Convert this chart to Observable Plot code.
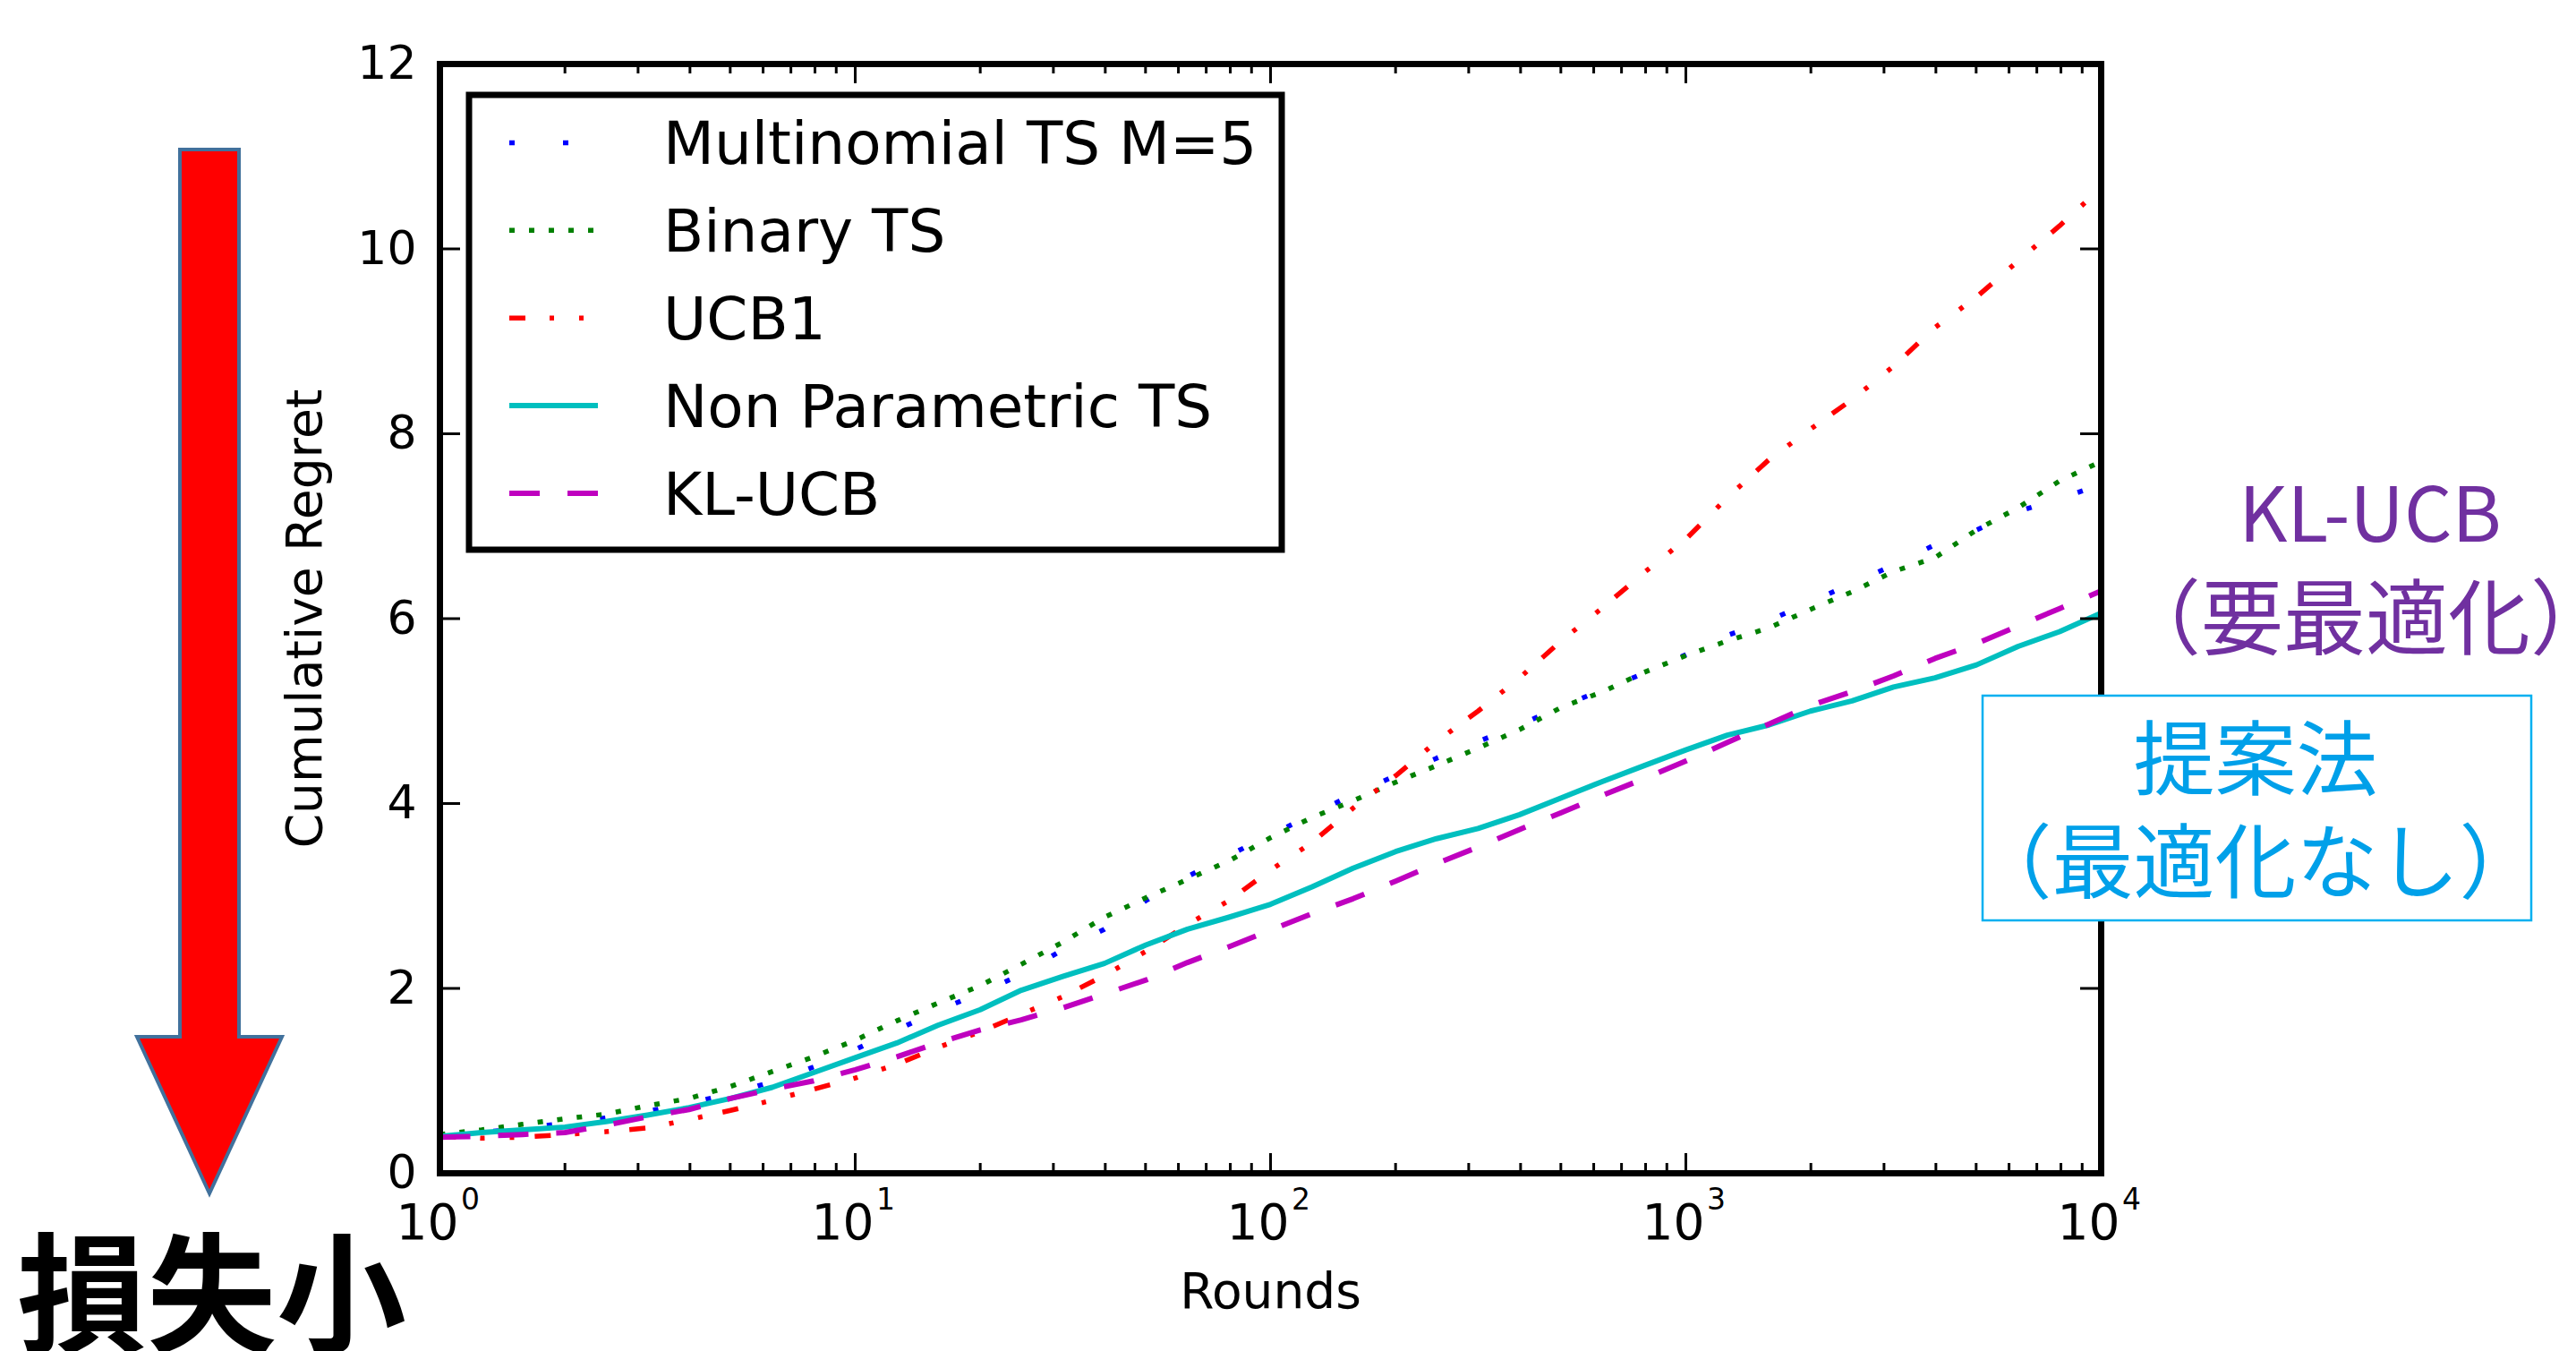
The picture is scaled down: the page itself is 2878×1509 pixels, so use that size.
<!DOCTYPE html>
<html>
<head>
<meta charset="utf-8">
<script src="https://cdn.jsdelivr.net/npm/d3@7"></script>
<script src="https://cdn.jsdelivr.net/npm/@observablehq/plot@0.6"></script>
<style>
  html, body { margin: 0; padding: 0; background: #fff; }
  #wrap { position: relative; width: 2878px; height: 1509px; overflow: hidden; background: #fff; }
  #overlay { position: absolute; left: 0; top: 0; }
</style>
</head>
<body>
<div id="wrap"></div>
<script>
// ---- data ----
const rounds = [1, 1.26, 1.58, 2, 2.51, 3.16, 3.98, 5.01, 6.31, 7.94,
  10, 12.6, 15.8, 20, 25.1, 31.6, 39.8, 50.1, 63.1, 79.4,
  100, 126, 158, 200, 251, 316, 398, 501, 631, 794,
  1000, 1259, 1585, 1995, 2512, 3162, 3981, 5012, 6310, 7943, 10000];

const multinomialTS = [0.40, 0.44, 0.49, 0.54, 0.60, 0.67, 0.76, 0.86, 0.99, 1.15,
  1.34, 1.55, 1.76, 1.95, 2.15, 2.42, 2.64, 2.95, 3.21, 3.44,
  3.66, 3.88, 4.10, 4.30, 4.49, 4.67, 4.85, 5.05, 5.23, 5.41,
  5.61, 5.82, 5.98, 6.18, 6.38, 6.58, 6.80, 6.96, 7.16, 7.30, 7.45];

const binaryTS = [0.42, 0.47, 0.53, 0.59, 0.64, 0.73, 0.81, 0.94, 1.10, 1.26,
  1.44, 1.65, 1.84, 2.03, 2.26, 2.50, 2.77, 2.98, 3.18, 3.38,
  3.63, 3.85, 4.03, 4.23, 4.41, 4.60, 4.80, 5.04, 5.21, 5.42,
  5.60, 5.76, 5.90, 6.10, 6.29, 6.51, 6.66, 6.96, 7.20, 7.49, 7.70];

const ucb1 = [0.40, 0.38, 0.39, 0.42, 0.45, 0.49, 0.58, 0.68, 0.79, 0.91,
  1.03, 1.18, 1.36, 1.53, 1.72, 1.91, 2.14, 2.40, 2.69, 2.95,
  3.28, 3.58, 3.95, 4.30, 4.67, 5.00, 5.36, 5.76, 6.12, 6.50,
  6.86, 7.31, 7.72, 8.05, 8.37, 8.73, 9.15, 9.48, 9.87, 10.25, 10.66];

const nonParametricTS = [0.40, 0.44, 0.47, 0.50, 0.56, 0.63, 0.71, 0.81, 0.93, 1.09,
  1.25, 1.41, 1.60, 1.77, 1.98, 2.13, 2.27, 2.47, 2.64, 2.77,
  2.91, 3.10, 3.30, 3.48, 3.62, 3.73, 3.88, 4.06, 4.24, 4.41,
  4.58, 4.74, 4.85, 5.00, 5.11, 5.26, 5.36, 5.50, 5.70, 5.86, 6.06];

const klUCB = [0.39, 0.40, 0.42, 0.44, 0.52, 0.61, 0.69, 0.81, 0.91, 1.00,
  1.12, 1.26, 1.41, 1.55, 1.66, 1.79, 1.94, 2.09, 2.28, 2.45,
  2.63, 2.81, 2.97, 3.16, 3.35, 3.53, 3.72, 3.90, 4.09, 4.27,
  4.46, 4.66, 4.86, 5.06, 5.21, 5.38, 5.57, 5.73, 5.92, 6.11, 6.30];

const seriesNames = ["Multinomial TS M=5", "Binary TS", "UCB1", "Non Parametric TS", "KL-UCB"];
const seriesValues = [multinomialTS, binaryTS, ucb1, nonParametricTS, klUCB];
const seriesColors = ["#0000ff", "#008000", "#ff0000", "#00bfbf", "#bf00bf"];
const seriesDashes = ["6,54", "6,16", "18,27,5,28,5,23", null, "34,31"];
const seriesWidths = [5.5, 5.5, 5.5, 6, 6];

const yTicks = [0, 2, 4, 6, 8, 10, 12];
const xMajor = [1, 10, 100, 1000, 10000];
const xExponents = ["0", "1", "2", "3", "4"];
const xMinor = [2, 3, 4, 5, 6, 7, 8, 9, 20, 30, 40, 50, 60, 70, 80, 90,
  200, 300, 400, 500, 600, 700, 800, 900, 2000, 3000, 4000, 5000, 6000, 7000, 8000, 9000];

const xLabel = "Rounds";
const yLabel = "Cumulative Regret";

// ---- layout ----
const W = 2878, H = 1509;
const mL = 491, mR = 2878 - 2347, mT = 71, mB = 1509 - 1310;
const plotW = W - mL - mR, plotH = H - mT - mB;

const table = seriesNames.flatMap((name, k) =>
  rounds.map((r, i) => ({round: r, regret: seriesValues[k][i], method: name})));

const lineMarks = seriesNames.map((name, k) =>
  Plot.line(table.filter(d => d.method === name), {
    x: "round", y: "regret",
    stroke: seriesColors[k],
    strokeWidth: seriesWidths[k],
    strokeDasharray: seriesDashes[k] || undefined,
    strokeLinecap: "butt",
    strokeLinejoin: "round"
  }));

const xTickTable = xMajor.map((v, i) => ({v, e: xExponents[i]}));

const chart = Plot.plot({
  width: W, height: H,
  marginLeft: mL, marginRight: mR, marginTop: mT, marginBottom: mB,
  style: {fontFamily: "'DejaVu Sans', sans-serif", background: "white", color: "black"},
  x: {type: "log", domain: [1, 10000], axis: null},
  y: {domain: [0, 12], axis: null},
  marks: [
    ...lineMarks,
    // inward ticks
    Plot.ruleX(xMajor, {x: d => d, insetTop: plotH - 22, stroke: "black", strokeWidth: 3}),
    Plot.ruleX(xMajor, {x: d => d, insetBottom: plotH - 22, stroke: "black", strokeWidth: 3}),
    Plot.ruleX(xMinor, {x: d => d, insetTop: plotH - 11, stroke: "black", strokeWidth: 3}),
    Plot.ruleX(xMinor, {x: d => d, insetBottom: plotH - 11, stroke: "black", strokeWidth: 3}),
    Plot.ruleY(yTicks, {y: d => d, insetRight: plotW - 23, stroke: "black", strokeWidth: 3}),
    Plot.ruleY(yTicks, {y: d => d, insetLeft: plotW - 23, stroke: "black", strokeWidth: 3}),
    Plot.frame({stroke: "black", strokeWidth: 7}),
    Plot.axisY({ticks: yTicks, tickSize: 0, tickPadding: 26, fontSize: 52, label: null, tickFormat: d => String(d)}),
    // x tick labels 10^n: base and superscript exponent
    Plot.text(xTickTable, {x: "v", text: () => "10", frameAnchor: "bottom", lineAnchor: "bottom",
      textAnchor: "middle", dx: -14, dy: 73, fontSize: 55, fill: "black"}),
    Plot.text(xTickTable, {x: "v", text: "e", frameAnchor: "bottom", lineAnchor: "bottom",
      textAnchor: "middle", dx: 34, dy: 40, fontSize: 33, fill: "black"}),
    Plot.text([yLabel], {text: d => d, frameAnchor: "left", textAnchor: "middle", lineAnchor: "middle",
      dx: -150, rotate: -90, fontSize: 55, fill: "black"}),
    Plot.text([xLabel], {text: d => d, frameAnchor: "bottom", textAnchor: "middle", dy: 133, fontSize: 55, fill: "black", lineAnchor: "middle"})
  ]
});

const wrap = document.getElementById("wrap");
wrap.appendChild(chart);

// ---- overlay: legend, arrow, annotations ----
const NS = "http://www.w3.org/2000/svg";
const ov = document.createElementNS(NS, "svg");
ov.setAttribute("id", "overlay");
ov.setAttribute("width", W);
ov.setAttribute("height", H);
ov.setAttribute("viewBox", `0 0 ${W} ${H}`);

let s = "";
// legend box
s += `<rect x="524" y="106" width="908" height="508" fill="white" stroke="black" stroke-width="7"/>`;
const rowY0 = 159.4, rowStep = 97.9;
seriesNames.forEach((name, k) => {
  const y = rowY0 + k * rowStep;
  const dash = seriesDashes[k] ? `stroke-dasharray="${seriesDashes[k]}"` : "";
  s += `<line x1="569" x2="668" y1="${y}" y2="${y}" stroke="${seriesColors[k]}" stroke-width="${seriesWidths[k]}" ${dash} stroke-linecap="butt"/>`;
  s += `<text x="741" y="${y + 24}" font-family="DejaVu Sans" font-size="66" fill="black">${name}</text>`;
});

// red arrow
s += `<polygon points="201,167 267,167 267,1158 315,1158 234,1333 153,1158 201,1158" fill="#ff0000" stroke="#41719c" stroke-width="4" stroke-linejoin="miter"/>`;
s += `<text x="19" y="1500" font-family="'Noto Sans CJK JP'" font-weight="700" font-size="145" fill="black">損失小</text>`;

// KL-UCB annotation
s += `<text x="2648" y="605" text-anchor="middle" font-family="'Noto Sans CJK JP'" font-size="84" fill="#7030a0">KL-UCB</text>`;
s += `<text x="2643" y="724" text-anchor="middle" font-family="'Noto Sans CJK JP'" font-size="92" fill="#7030a0">（要最適化）</text>`;

// proposed method box
s += `<rect x="2215" y="777" width="613" height="251" fill="white" stroke="#00b0f0" stroke-width="2.5"/>`;
s += `<text x="2520" y="881" text-anchor="middle" font-family="'Noto Sans CJK JP'" font-size="91" fill="#00a0e9">提案法</text>`;
s += `<text x="2520" y="996" text-anchor="middle" font-family="'Noto Sans CJK JP'" font-size="91" fill="#00a0e9">（最適化なし）</text>`;

ov.innerHTML = s;
wrap.appendChild(ov);
</script>
</body>
</html>
